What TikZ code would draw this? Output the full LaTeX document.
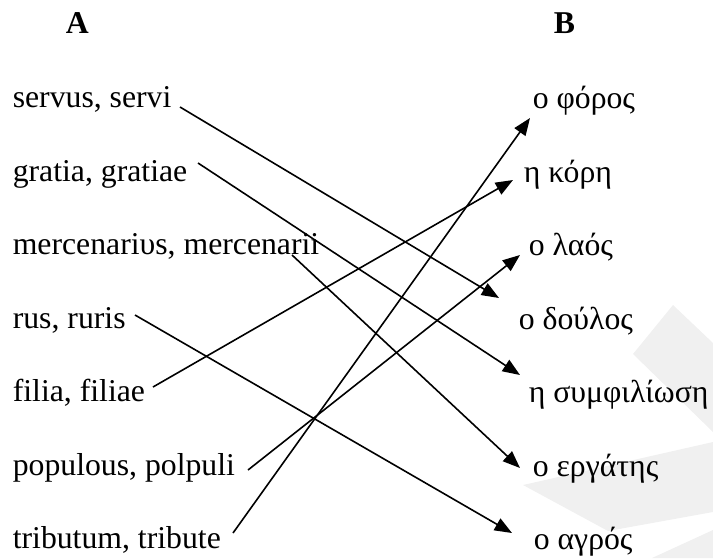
\documentclass[tikz,border=0pt]{standalone}
\usepackage{fontspec}
\setmainfont{Liberation Serif}
\usetikzlibrary{arrows.meta}

\tikzset{every picture/.style={line width=1.2pt}}
\tikzset{
  word/.style={anchor=base west,inner sep=0pt},
  link/.style={-{Triangle[length=13pt,width=10pt]}},
  shade patch/.style={fill=gray!12,draw=none}
}

\begin{document}
\begin{tikzpicture}[x=0.75pt,y=0.75pt,yscale=-1,xscale=1,font=\fontsize{23.8}{28}\selectfont]
	\useasboundingbox (0,0) rectangle (713,558);
	
	%Shapes in the background
	\fill [shade patch] (673,305) -- (633,354) -- (713,432) -- (713,343) -- cycle;
	\fill [shade patch] (523,485) -- (713,442) -- (713,512) -- (608,531) -- cycle;
	\fill [shade patch] (652,558) -- (713,530) -- (713,558) -- cycle;
	
	% Column heads
	\node [word] (headA) at (65,33) {\textbf{A}};
	\node [word] (headB) at (553,33) {\textbf{B}};
	
	% Text Node
	\node [word] (servus) at (12,107) {servus, servi};
	% Text Node
	\node [word] (gratia) at (12,181) {gratia, gratiae};
	% Text Node
	\node [word] (merc) at (12,254) {mercenariυs, mercenarii};
	% Text Node
	\node [word] (rus) at (12,328) {rus, ruris};
	% Text Node
	\node [word] (filia) at (12,401) {filia, filiae};
	% Text Node
	\node [word] (populus) at (12,475) {populous, polpuli};
	% Text Node
	\node [word] (tributum) at (12,548) {tributum, tribute};
	
	% Text Node
	\node [word] (foros) at (532,108) {ο φόρος};
	% Text Node
	\node [word] (kori) at (523,182) {η κόρη};
	% Text Node
	\node [word] (laos) at (528,255) {ο λαός};
	% Text Node
	\node [word] (doulos) at (518,329) {ο δούλος};
	% Text Node
	\node [word] (symfil) at (528,402) {η συμφιλίωση};
	% Text Node
	\node [word] (ergatis) at (532,476) {ο εργάτης};
	% Text Node
	\node [word] (agros) at (533,549) {ο αγρός};
	
	% line ends
	\coordinate (servus-o) at (180,107);
	\coordinate (gratia-o) at (198,163);
	\coordinate (merc-o) at (292,255);
	\coordinate (rus-o) at (135,315);
	\coordinate (filia-o) at (153,387);
	\coordinate (populus-o) at (248,470);
	\coordinate (tributum-o) at (233,533);
	\coordinate (foros-i) at (530,118);
	\coordinate (kori-i) at (513,180);
	\coordinate (laos-i) at (520,255);
	\coordinate (doulos-i) at (499,298);
	\coordinate (symfil-i) at (520,375);
	\coordinate (ergatis-i) at (520,468);
	\coordinate (agros-i) at (512,533);
	
	%Arrows
	\draw [link] (servus-o) -- (doulos-i);
	\draw [link] (gratia-o) -- (symfil-i);
	\draw [link] (merc-o) -- (ergatis-i);
	\draw [link] (rus-o) -- (agros-i);
	\draw [link] (filia-o) -- (kori-i);
	\draw [link] (populus-o) -- (laos-i);
	\draw [link] (tributum-o) -- (foros-i);
	
\end{tikzpicture}
\end{document}
